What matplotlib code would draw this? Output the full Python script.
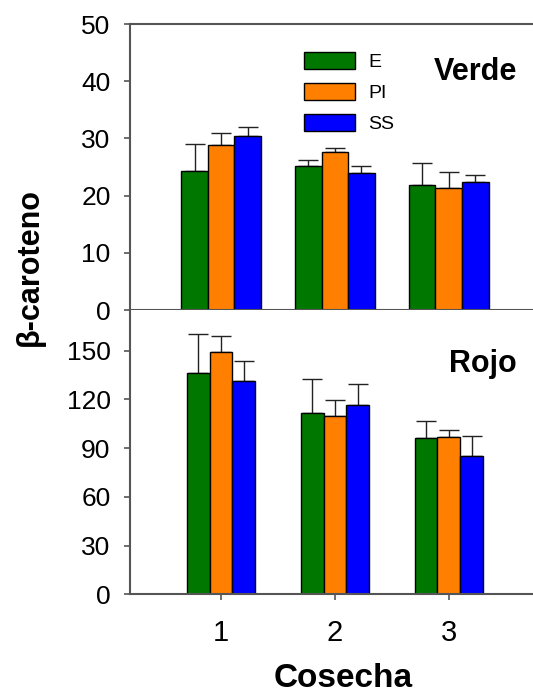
from matplotlib import pyplot as plt
from matplotlib.patches import Patch
import numpy as np

plt.rcParams['font.family'] = ['Liberation Sans', 'DejaVu Sans']

cosechas = [1, 2, 3]
tratamientos = ['E', 'PI', 'SS']
colores = ['#007800', '#ff8000', '#0000ff']

# verde: medias y error (solo hacia arriba)
verde_media = {'E': [24.3, 25.1, 21.8], 'PI': [28.9, 27.6, 21.3], 'SS': [30.4, 24.0, 22.3]}
verde_err = {'E': [4.8, 1.1, 3.9], 'PI': [2.1, 0.7, 2.8], 'SS': [1.6, 1.2, 1.3]}

# rojo
rojo_media = {'E': [136.1, 111.5, 96.2], 'PI': [149.0, 109.6, 97.0], 'SS': [131.5, 116.7, 85.0]}
rojo_err = {'E': [24.4, 21.1, 10.7], 'PI': [10.2, 10.2, 4.2], 'SS': [12.3, 13.0, 12.3]}

W, H = 533, 695
fig = plt.figure(figsize=(W / 100, H / 100), dpi=100)
ax1 = fig.add_axes([130 / W, (H - 310) / H, 1 - 130 / W, 286 / H])
ax2 = fig.add_axes([130 / W, (H - 594.3) / H, 1 - 130 / W, 284.3 / H])

x = np.array(cosechas, dtype=float)


def barras(ax, medias, errores, ancho):
    for i, t in enumerate(tratamientos):
        pos = x + (i - 1) * ancho
        ax.bar(pos, medias[t], ancho, color=colores[i], edgecolor='black', linewidth=1.0, zorder=2)
        ax.errorbar(pos, medias[t], yerr=[np.zeros(3), errores[t]], fmt='none',
                    ecolor='#222222', elinewidth=1.0, capsize=7, capthick=1.0, zorder=1)


barras(ax1, verde_media, verde_err, 0.233)
barras(ax2, rojo_media, rojo_err, 0.2)

spine_col = '#555555'
for ax in (ax1, ax2):
    ax.set_xlim(0.2, 3.74)
    ax.spines['right'].set_visible(False)
    for s in ('left', 'bottom', 'top'):
        ax.spines[s].set_color(spine_col)
        ax.spines[s].set_linewidth(1.5)
    ax.tick_params(axis='y', direction='out', length=4, width=1.2, color=spine_col,
                   labelsize=19, pad=10)

ax1.set_ylim(0, 50)
ax1.set_yticks([0, 10, 20, 30, 40, 50])
ax1.set_xticks([])

ax2.set_ylim(0, 175)
ax2.set_yticks([0, 30, 60, 90, 120, 150])
ax2.spines['top'].set_visible(False)
ax2.set_xticks(cosechas)
ax2.tick_params(axis='x', direction='out', length=4, width=1.2, color=spine_col,
                labelsize=21, pad=14)

# leyenda
handles = [Patch(facecolor=c, edgecolor='black', linewidth=1.0) for c in colores]
leg = fig.legend(handles, tratamientos, loc='upper left', bbox_to_anchor=(304 / W, 1 - 52 / H),
                 frameon=False, fontsize=14, handlelength=2.6, handleheight=1.0,
                 labelspacing=0.6, handletextpad=0.7, borderpad=0, borderaxespad=0)

fig.text(517 / W, 1 - 80 / H, 'Verde', fontsize=22, fontweight='bold', ha='right', va='baseline')
fig.text(517 / W, 1 - 371.7 / H, 'Rojo', fontsize=22, fontweight='bold', ha='right', va='baseline')

fig.text(30 / W, 1 - 267 / H, 'β-caroteno', fontsize=22, fontweight='bold', rotation=90,
         ha='center', va='center')
fig.text(343 / W, 1 - 687 / H, 'Cosecha', fontsize=24, fontweight='bold', ha='center', va='baseline')

fig.savefig('out.png', dpi=100)
